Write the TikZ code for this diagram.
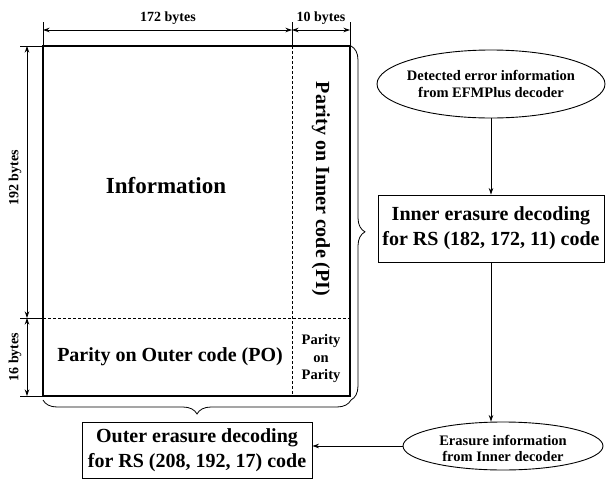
\documentclass[tikz,border=0pt]{standalone}
\usepackage{fontspec}
\setmainfont{Liberation Serif}
\usetikzlibrary{arrows.meta,shapes.geometric,decorations.pathreplacing}
\begin{document}
\begin{tikzpicture}[x=1pt,y=-1pt,
  thinln/.style={line width=0.8pt},
  dashln/.style={line width=0.8pt,dash pattern=on 2.5pt off 2.5pt},
  dimarrow/.style={line width=0.8pt,{Stealth[length=6.5pt,width=4.5pt]}-{Stealth[length=6.5pt,width=4.5pt]}},
  flow/.style={line width=0.8pt,-{Stealth[length=6.5pt,width=4.5pt]}},
  boxnode/.style={draw,line width=0.9pt,inner sep=0pt,align=center,font=\fontsize{20}{25}\selectfont\bfseries},
  ellnode/.style={draw,ellipse,line width=0.9pt,inner sep=0pt},
  ellfont/.style={align=center,font=\fontsize{14.5}{17}\selectfont\bfseries},
  celltext/.style={font=\fontsize{20}{24}\selectfont\bfseries},
  bigtext/.style={font=\fontsize{23}{26}\selectfont\bfseries},
  lbl/.style={font=\fontsize{14}{16}\selectfont\bfseries},
  smalltext/.style={align=center,font=\fontsize{14.5}{17.5}\selectfont\bfseries},
  bracestyle/.style={decorate,line width=0.8pt}
]
\useasboundingbox (0,0) rectangle (606,480);

% main frame corners
\coordinate (tl) at (43,46);
\coordinate (tr) at (350,46);
\coordinate (bl) at (43,396);
\coordinate (br) at (350,396);
\coordinate (tm) at (292,46);
\coordinate (bm) at (292,396);
\coordinate (ml) at (43,318);
\coordinate (mr) at (350,318);

\draw[line width=1.3pt] (tl) rectangle (br);
\draw[dashln] (tm) -- (bm);
\draw[dashln] (ml) -- (mr);

% extension lines
\coordinate (e1) at (43,22);
\coordinate (e2) at (292,22);
\coordinate (e3) at (350,22);
\coordinate (h1) at (20,46);
\coordinate (h2) at (20,318);
\coordinate (h3) at (20,396);
\draw[thinln] (e1) -- (tl);
\draw[thinln] (e2) -- (tm);
\draw[thinln] (e3) -- (tr);
\draw[thinln] (h1) -- (tl);
\draw[thinln] (h2) -- (ml);
\draw[thinln] (h3) -- (bl);

% dimension arrows
\coordinate (d1) at (43,30);
\coordinate (d2) at (292,30);
\coordinate (d3) at (350,30);
\coordinate (v1) at (27,46);
\coordinate (v2) at (27,318);
\coordinate (v3) at (27,396);
\draw[dimarrow] (d1) -- (d2);
\draw[dimarrow] (d2) -- (d3);
\draw[dimarrow] (v1) -- (v2);
\draw[dimarrow] (v2) -- (v3);

\node[lbl] (l172) at (168,18) {172 bytes};
\node[lbl] (l10) at (321,18) {10 bytes};
\node[lbl,rotate=90] (l192) at (15,178) {192 bytes};
\node[lbl,rotate=90] (l16) at (15,357) {16 bytes};

% cell texts
\node[bigtext] (info) at (166,186) {Information};
\node[celltext,rotate=-90] (pi) at (321,189) {Parity on Inner code (PI)};
\node[celltext] (po) at (170,357) {Parity on Outer code (PO)};
\node[smalltext] (pop) at (321,359) {Parity\\on\\Parity};

% braces
\coordinate (rb1) at (351,46);
\coordinate (rb2) at (351,400);
\coordinate (bb1) at (351,400);
\coordinate (bb2) at (43,400);
\draw[bracestyle,decoration={brace,amplitude=14pt,aspect=0.525}] (rb1) -- (rb2);
\draw[bracestyle,decoration={brace,amplitude=14pt,aspect=0.5}] (bb1) -- (bb2);

% flow nodes
\node[ellnode,minimum width=228pt,minimum height=68pt,
  label={[ellfont]center:{Detected error information\\from EFMPlus decoder}}] (det) at (491,84) {};
\node[boxnode,minimum width=226pt,minimum height=67pt] (inner) at (491,228.5) {Inner erasure decoding\\for RS (182, 172, 11) code};
\node[ellnode,minimum width=200pt,minimum height=48pt,
  label={[ellfont,font=\fontsize{14.5}{16}\selectfont\bfseries,yshift=-2pt]center:{Erasure information\\from Inner decoder}}] (era) at (503,446) {};
\node[boxnode,minimum width=230pt,minimum height=56pt] (outer) at (197,450) {Outer erasure decoding\\for RS (208, 192, 17) code};

\draw[flow] (det) -- (inner);
\draw[flow] (inner.south) -- (inner.south |- era.north);
\draw[flow] (era.west) -- (era.west -| outer.east);
\end{tikzpicture}
\end{document}
